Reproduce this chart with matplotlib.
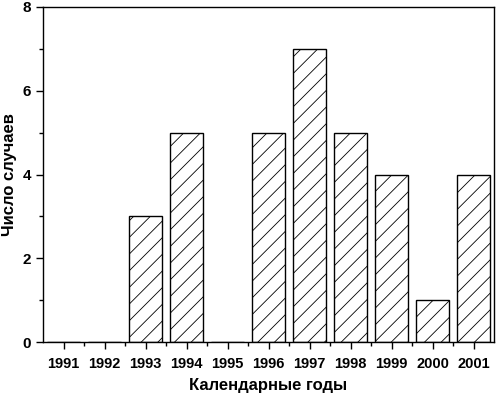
import matplotlib.pyplot as plt
import numpy as np

years = [1991, 1992, 1993, 1994, 1995, 1996, 1997, 1998, 1999, 2000, 2001]
cases = [0, 0, 3, 5, 0, 5, 7, 5, 4, 1, 4]

plt.rcParams['font.family'] = ['Liberation Sans', 'DejaVu Sans']
plt.rcParams['hatch.linewidth'] = 0.6

fig = plt.figure(figsize=(4.97, 3.97), dpi=100)
ax = fig.add_axes([43 / 497, 55 / 397, 451 / 497, 335 / 397])

ax.bar(years, cases, width=0.8, color='white', edgecolor='black',
       linewidth=1.0, hatch='//')

ax.set_xlim(1990.5, 2001.5)
ax.set_ylim(0, 8)
ax.set_xticks(years)
ax.set_xticklabels([str(y) for y in years], fontweight='bold', fontsize=10.5)
ax.set_xticks(np.array(years[:-1]) + 0.5, minor=True)
ax.set_yticks([0, 2, 4, 6, 8])
ax.set_yticklabels(['0', '2', '4', '6', '8'], fontweight='bold', fontsize=11)
ax.set_yticks([1, 3, 5, 7], minor=True)

ax.tick_params(which='major', direction='out', length=5, width=1)
ax.tick_params(which='minor', direction='out', length=3, width=1)
ax.tick_params(axis='x', which='major', pad=6)

for s in ax.spines.values():
    s.set_linewidth(1.0)

ax.set_xlabel('Календарные годы', fontweight='bold', fontsize=12, labelpad=5)
ax.set_ylabel('Число случаев', fontweight='bold', fontsize=12)
ax.yaxis.set_label_coords(-0.058, 0.5)

fig.savefig('out.png', dpi=100)
